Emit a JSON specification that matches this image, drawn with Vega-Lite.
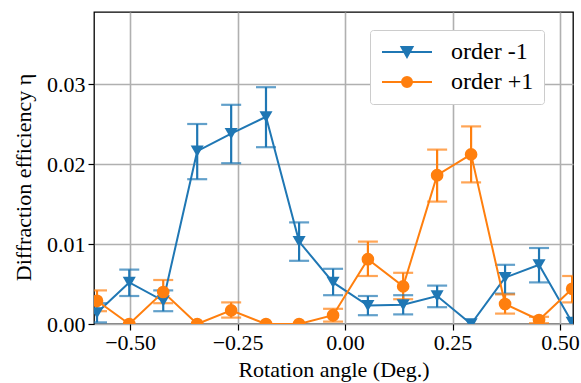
{
  "$schema": "https://vega.github.io/schema/vega-lite/v6.json",
  "width": 479,
  "height": 312,
  "autosize": "none",
  "padding": {"left": 94, "top": 12, "right": 8, "bottom": 59},
  "background": "white",
  "config": {
    "font": "Liberation Serif, Times New Roman, serif",
    "view": {"stroke": "black", "strokeWidth": 1.3},
    "axis": {
      "gridColor": "#b0b0b0", "gridWidth": 1.6, "gridOpacity": 1,
      "domain": false, "tickColor": "black", "tickSize": 6, "tickWidth": 1.2,
      "labelFont": "Liberation Serif, Times New Roman, serif", "labelFontSize": 22, "labelColor": "black",
      "titleFont": "Liberation Serif, Times New Roman, serif", "titleFontSize": 22, "titleFontWeight": "normal", "titleColor": "black"
    },
    "legend": {"labelFont": "Liberation Serif, Times New Roman, serif", "labelFontSize": 24, "labelColor": "black"}
  },
  "data": {
    "values": [
      {"s": "order -1", "a": -0.577, "v": 0.0014, "lo": 0.0002, "hi": 0.0026},
      {"s": "order -1", "a": -0.502, "v": 0.0052, "lo": 0.0035, "hi": 0.0068},
      {"s": "order -1", "a": -0.423, "v": 0.0029, "lo": 0.0016, "hi": 0.0042},
      {"s": "order -1", "a": -0.344, "v": 0.0216, "lo": 0.0181, "hi": 0.0250},
      {"s": "order -1", "a": -0.265, "v": 0.0238, "lo": 0.0201, "hi": 0.0274},
      {"s": "order -1", "a": -0.184, "v": 0.0259, "lo": 0.0221, "hi": 0.0296},
      {"s": "order -1", "a": -0.107, "v": 0.0103, "lo": 0.0079, "hi": 0.0127},
      {"s": "order -1", "a": -0.028, "v": 0.0052, "lo": 0.0036, "hi": 0.0069},
      {"s": "order -1", "a": 0.053, "v": 0.0023, "lo": 0.0011, "hi": 0.0035},
      {"s": "order -1", "a": 0.135, "v": 0.0024, "lo": 0.0012, "hi": 0.0036},
      {"s": "order -1", "a": 0.214, "v": 0.0035, "lo": 0.0021, "hi": 0.0048},
      {"s": "order -1", "a": 0.293, "v": 0.0000, "lo": null, "hi": null},
      {"s": "order -1", "a": 0.372, "v": 0.0058, "lo": 0.0038, "hi": 0.0074},
      {"s": "order -1", "a": 0.451, "v": 0.0074, "lo": 0.0052, "hi": 0.0095},
      {"s": "order -1", "a": 0.528, "v": 0.0002, "lo": null, "hi": null},
      {"s": "order +1", "a": -0.577, "v": 0.0029, "lo": 0.0016, "hi": 0.0042},
      {"s": "order +1", "a": -0.502, "v": 0.0000, "lo": null, "hi": null},
      {"s": "order +1", "a": -0.423, "v": 0.0040, "lo": 0.0026, "hi": 0.0055},
      {"s": "order +1", "a": -0.344, "v": 0.0000, "lo": null, "hi": null},
      {"s": "order +1", "a": -0.265, "v": 0.0017, "lo": 0.0008, "hi": 0.0027},
      {"s": "order +1", "a": -0.184, "v": 0.0000, "lo": null, "hi": null},
      {"s": "order +1", "a": -0.107, "v": 0.0000, "lo": null, "hi": null},
      {"s": "order +1", "a": -0.028, "v": 0.0011, "lo": 0.0003, "hi": 0.0019},
      {"s": "order +1", "a": 0.053, "v": 0.0081, "lo": 0.0060, "hi": 0.0103},
      {"s": "order +1", "a": 0.135, "v": 0.0047, "lo": 0.0031, "hi": 0.0064},
      {"s": "order +1", "a": 0.214, "v": 0.0186, "lo": 0.0153, "hi": 0.0218},
      {"s": "order +1", "a": 0.293, "v": 0.0212, "lo": 0.0177, "hi": 0.0247},
      {"s": "order +1", "a": 0.372, "v": 0.0025, "lo": 0.0013, "hi": 0.0037},
      {"s": "order +1", "a": 0.451, "v": 0.0005, "lo": 0.0001, "hi": 0.0009},
      {"s": "order +1", "a": 0.528, "v": 0.0044, "lo": 0.0027, "hi": 0.0060}
    ]
  },
  "encoding": {
    "x": {"field": "a", "type": "quantitative",
      "scale": {"domain": [-0.584, 0.53], "nice": false, "zero": false},
      "axis": {"values": [-0.5, -0.25, 0, 0.25, 0.5], "format": ".2f", "title": "Rotation angle (Deg.)", "labelPadding": 2, "titlePadding": 6}}
  },
  "layer": [
    {
      "transform": [{"filter": "datum.lo != null"}],
      "mark": {"type": "rule", "strokeWidth": 2.2, "clip": true},
      "encoding": {
        "y": {"field": "lo", "type": "quantitative",
          "scale": {"domain": [0, 0.039], "nice": false},
          "axis": {"values": [0, 0.01, 0.02, 0.03], "format": ".2f", "title": "Diffraction efficiency η", "labelPadding": 3, "titleX": -59, "titleY": 165, "titleAlign": "center", "titleAngle": 270}},
        "y2": {"field": "hi"},
        "color": {"field": "s", "type": "nominal", "legend": null,
          "scale": {"domain": ["order +1", "order -1"], "range": ["#ff7f0e", "#1f77b4"]}}
      }
    },
    {
      "transform": [{"filter": "datum.lo != null"}],
      "mark": {"type": "tick", "orient": "horizontal", "size": 20, "thickness": 2.2, "clip": true},
      "encoding": {
        "y": {"field": "lo", "type": "quantitative"},
        "color": {"field": "s", "type": "nominal", "legend": null}
      }
    },
    {
      "transform": [{"filter": "datum.lo != null"}],
      "mark": {"type": "tick", "orient": "horizontal", "size": 20, "thickness": 2.2, "clip": true},
      "encoding": {
        "y": {"field": "hi", "type": "quantitative"},
        "color": {"field": "s", "type": "nominal", "legend": null}
      }
    },
    {
      "mark": {"type": "line", "strokeWidth": 2, "clip": true},
      "encoding": {
        "y": {"field": "v", "type": "quantitative"},
        "color": {"field": "s", "type": "nominal", "legend": null}
      }
    },
    {
      "transform": [{"filter": "datum.s == 'order -1'"}],
      "mark": {"type": "point", "shape": "triangle-down", "filled": true, "opacity": 1, "size": 170, "clip": true},
      "encoding": {
        "y": {"field": "v", "type": "quantitative"},
        "color": {"field": "s", "type": "nominal", "legend": null}
      }
    },
    {
      "transform": [{"filter": "datum.s == 'order +1'"}],
      "mark": {"type": "point", "shape": "circle", "filled": true, "opacity": 1, "size": 160, "clip": true},
      "encoding": {
        "y": {"field": "v", "type": "quantitative"},
        "color": {"field": "s", "type": "nominal", "legend": null}
      }
    },
    {
      "transform": [{"filter": "datum.a > 99"}],
      "mark": {"type": "point", "filled": true, "opacity": 1, "strokeWidth": 2, "clip": true},
      "encoding": {
        "y": {"field": "v", "type": "quantitative"},
        "fill": {"field": "s", "type": "nominal",
          "scale": {"domain": ["order -1", "order +1"], "range": ["#1f77b4", "#ff7f0e"]},
          "legend": {"title": null, "orient": "none", "legendX": 276, "legendY": 18, "symbolSize": 400, "symbolStrokeWidth": 2, "labelFontSize": 24, "labelFont": "Liberation Serif, Times New Roman, serif", "labelColor": "black", "strokeColor": "#cccccc", "fillColor": "white", "cornerRadius": 3, "padding": 10, "symbolOffset": 15, "labelOffset": 32, "rowPadding": 6}},
        "stroke": {"field": "s", "type": "nominal",
          "scale": {"domain": ["order -1", "order +1"], "range": ["#1f77b4", "#ff7f0e"]},
          "legend": {"title": null, "orient": "none", "legendX": 276, "legendY": 18, "symbolSize": 400, "symbolStrokeWidth": 2, "labelFontSize": 24, "labelFont": "Liberation Serif, Times New Roman, serif", "labelColor": "black", "strokeColor": "#cccccc", "fillColor": "white", "cornerRadius": 3, "padding": 10, "symbolOffset": 15, "labelOffset": 32, "rowPadding": 6}},
        "shape": {"field": "s", "type": "nominal",
          "scale": {"domain": ["order -1", "order +1"], "range": ["M-2.5,0H2.5M0,0.5L-0.55,-0.5L0.55,-0.5Z", "M-2.5,0H2.5M-0.5,0A0.5,0.5,0,1,0,0.5,0A0.5,0.5,0,1,0,-0.5,0Z"]},
          "legend": {"title": null, "orient": "none", "legendX": 276, "legendY": 18, "symbolSize": 400, "symbolStrokeWidth": 2, "labelFontSize": 24, "labelFont": "Liberation Serif, Times New Roman, serif", "labelColor": "black", "strokeColor": "#cccccc", "fillColor": "white", "cornerRadius": 3, "padding": 10, "symbolOffset": 15, "labelOffset": 32, "rowPadding": 6}}
      }
    }
  ]
}
